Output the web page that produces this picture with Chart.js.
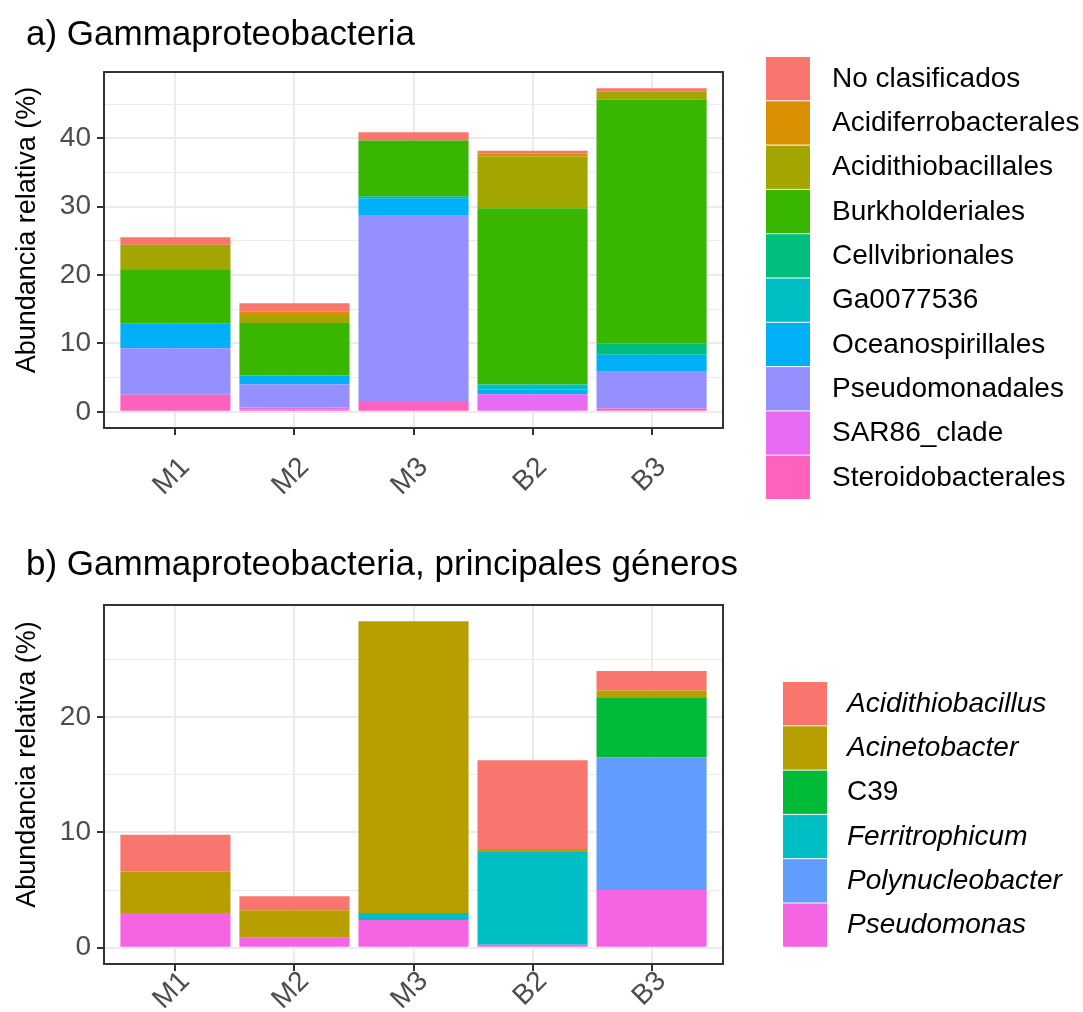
<!DOCTYPE html>
<html>
<head>
<meta charset="utf-8">
<script src="https://cdn.jsdelivr.net/npm/chart.js@4"></script>
<style>
  body { margin: 0; background: #fff; }
  .panel { position: absolute; left: 0; width: 1083px; }
</style>
</head>
<body>
<div class="panel" style="top:0;height:525px"><canvas id="chartA"></canvas></div>
<div class="panel" style="top:525px;height:487px"><canvas id="chartB"></canvas></div>
<script>
const samples = ['M1', 'M2', 'M3', 'B2', 'B3'];

// a) orders, in legend order (top of the stack first)
const ordersA = ['No clasificados', 'Acidiferrobacterales', 'Acidithiobacillales', 'Burkholderiales',
  'Cellvibrionales', 'Ga0077536', 'Oceanospirillales', 'Pseudomonadales', 'SAR86_clade', 'Steroidobacterales'];
const colorsA = ['#F8766D', '#D89000', '#A3A500', '#39B600', '#00BF7D', '#00BFC4', '#00B0F6', '#9590FF', '#E76BF3', '#FF62BC'];
// one value per sample: M1, M2, M3, B2, B3
const noClasificados       = [1.1, 1.25, 1.2, 0.45, 0.45];
const acidiferrobacterales = [0, 0.6, 0, 0.4, 0];
const acidithiobacillales  = [3.7, 1.05, 0, 7.55, 1.2];
const burkholderiales      = [7.85, 7.65, 8.15, 25.8, 35.65];
const cellvibrionales      = [0, 0, 0.3, 0, 1.7];
const ga0077536            = [0, 0, 0, 0.7, 0];
const oceanospirillales    = [3.6, 1.3, 2.45, 0.74, 2.5];
const pseudomonadales      = [6.8, 3.4, 27.35, 0, 5.35];
const sar86Clade           = [0, 0.33, 0, 2.56, 0];
const steroidobacterales   = [2.5, 0.3, 1.45, 0, 0.5];
const ticksA = [0, 10, 20, 30, 40];

// b) main genera
const generaB = ['Acidithiobacillus', 'Acinetobacter', 'C39', 'Ferritrophicum', 'Polynucleobacter', 'Pseudomonas'];
const italicB = [true, true, false, true, true, true];
const colorsB = ['#F8766D', '#B79F00', '#00BA38', '#00BFC4', '#619CFF', '#F564E3'];
const acidithiobacillus = [3.2, 1.2, 0, 7.7, 1.7];
const acinetobacter     = [3.6, 2.35, 25.3, 0.25, 0.65];
const c39               = [0, 0, 0, 0, 5.15];
const ferritrophicum    = [0, 0, 0.6, 8.05, 0];
const polynucleobacter  = [0, 0, 0, 0, 11.5];
const pseudomonas       = [3.0, 0.9, 2.4, 0.25, 5.0];
const ticksB = [0, 10, 20];

const yTitle = 'Abundancia relativa (%)';

const FONT = '"Liberation Sans", Helvetica, Arial, sans-serif';
Chart.defaults.font.family = FONT;

// title, y title, panel border and legend keys drawn like ggplot
const panelKeys = {
  id: 'panelKeys',
  afterDatasetsDraw(chart) {
    const a = chart.chartArea, ctx = chart.ctx;
    ctx.save();
    ctx.strokeStyle = '#333333';
    ctx.lineWidth = 2;
    ctx.strokeRect(a.left, a.top, a.right - a.left, a.bottom - a.top);
    ctx.restore();
  },
  afterDraw(chart, args, opts) {
    const ctx = chart.ctx, a = chart.chartArea;
    ctx.save();
    ctx.textBaseline = 'middle';
    ctx.fillStyle = '#000';
    ctx.font = '35px ' + FONT;
    ctx.fillText(opts.title, opts.titleX, opts.titleY);

    ctx.save();
    ctx.translate(28, (a.top + a.bottom) / 2 - 20);
    ctx.rotate(-Math.PI / 2);
    ctx.textAlign = 'center';
    ctx.font = '27px ' + FONT;
    ctx.fillText(yTitle, 0, 0);
    ctx.restore();

    opts.names.forEach((name, i) => {
      const y = opts.top + i * opts.pitch;
      ctx.fillStyle = opts.colors[i];
      ctx.fillRect(opts.x, y, opts.size, opts.pitch - 1);
      ctx.fillStyle = '#000';
      ctx.font = (opts.italic && opts.italic[i] ? 'italic ' : '') + '28px ' + FONT;
      ctx.fillText(name, opts.textX, y + opts.pitch / 2);
    });
    ctx.restore();
  }
};

function makeChart(id, names, colors, series, majors, cfg) {
  const totals = samples.map((_, j) => series.reduce((s, v) => s + v[j], 0));
  const top = Math.max(...totals);
  const pad = top * 0.05;
  const gridVals = [];
  majors.forEach(v => { gridVals.push(v); if (v + 5 < top + pad) gridVals.push(v + 5); });

  // first dataset sits at the bottom of the stack
  const datasets = names.map((name, i) => ({
    label: name,
    data: series[i].map((v, j) => ({ x: j + 1, y: v })),
    backgroundColor: colors[i],
    barPercentage: 0.925,
    categoryPercentage: 1
  })).reverse();

  return new Chart(document.getElementById(id), {
    type: 'bar',
    data: { datasets },
    options: {
      responsive: true,
      maintainAspectRatio: false,
      animation: false,
      layout: { padding: { left: 0, right: 360, top: cfg.topPad, bottom: 0 } },
      plugins: {
        legend: { display: false },
        tooltip: { enabled: false },
        title: { display: false },
        panelKeys: cfg.keys
      },
      scales: {
        x: {
          type: 'linear', min: 0.4, max: 5.6, stacked: true, offset: false,
          afterBuildTicks: s => { s.ticks = samples.map((_, i) => ({ value: i + 1 })); },
          afterFit: s => { s.height = cfg.xHeight; },
          ticks: {
            callback: v => samples[Math.round(v) - 1],
            minRotation: 45, maxRotation: 45,
            color: '#4D4D4D', font: { size: 28 }, padding: cfg.labelPad, labelOffset: 10
          },
          grid: { offset: false, color: '#EBEBEB', lineWidth: 2, tickColor: '#333333', tickLength: 7, tickWidth: 2 },
          border: { display: false }
        },
        y: {
          stacked: true, min: -pad, max: top + pad,
          afterBuildTicks: s => { s.ticks = gridVals.map(v => ({ value: v })); },
          afterFit: s => { s.width = 104; },
          ticks: {
            callback: v => majors.includes(v) ? String(v) : '',
            color: '#4D4D4D', font: { size: 28 }, padding: 6
          },
          grid: {
            color: '#EBEBEB',
            lineWidth: c => (c.tick && majors.includes(c.tick.value)) ? 2 : 1,
            tickColor: c => (c.tick && majors.includes(c.tick.value)) ? '#333333' : 'rgba(0,0,0,0)',
            tickLength: 7, tickWidth: 2
          },
          border: { display: false }
        }
      }
    },
    plugins: [panelKeys]
  });
}

makeChart('chartA', ordersA, colorsA,
  [noClasificados, acidiferrobacterales, acidithiobacillales, burkholderiales, cellvibrionales,
   ga0077536, oceanospirillales, pseudomonadales, sar86Clade, steroidobacterales],
  ticksA,
  {
    topPad: 72, xHeight: 97, labelPad: 16,
    keys: { title: 'a) Gammaproteobacteria', titleX: 26, titleY: 35,
            names: ordersA, colors: colorsA, x: 766, top: 57, size: 44, pitch: 44.3, textX: 832 }
  });

makeChart('chartB', generaB, colorsB,
  [acidithiobacillus, acinetobacter, c39, ferritrophicum, polynucleobacter, pseudomonas],
  ticksB,
  {
    topPad: 80, xHeight: 48, labelPad: -6,
    keys: { title: 'b) Gammaproteobacteria, principales géneros', titleX: 26, titleY: 40,
            names: generaB, colors: colorsB, italic: italicB, x: 783, top: 157, size: 44, pitch: 44.3, textX: 847 }
  });
</script>
</body>
</html>
